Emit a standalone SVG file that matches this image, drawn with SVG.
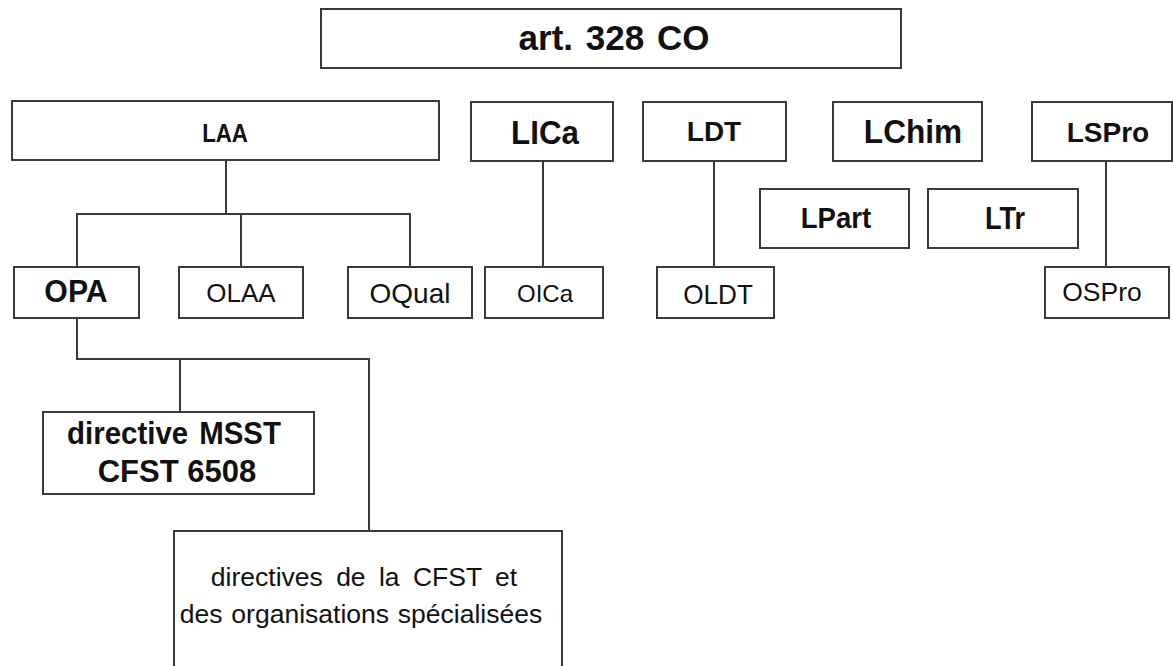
<svg xmlns="http://www.w3.org/2000/svg" width="1173" height="666" viewBox="0 0 1173 666">
<style>
.box{fill:#fff;stroke:#3a3a3a;stroke-width:2}
.ln{fill:none;stroke:#3a3a3a;stroke-width:2}
text{font-family:"Liberation Sans",Arial,sans-serif;fill:#111;text-anchor:middle}
.b{font-weight:bold}
</style>
<rect width="1173" height="666" fill="#fff"/>
<g id="connectors">
<path class="ln" d="M226 160V214M77 267V214H410V267M241 214V267"/>
<path class="ln" d="M543 161V267"/>
<path class="ln" d="M714 161V267"/>
<path class="ln" d="M1106 161V267"/>
<path class="ln" d="M77 318V359H369V531M180 359V412"/>
</g>
<g id="art328"><rect class="box" x="321" y="9" width="580" height="59"/><text class="b" x="614" y="50" font-size="35" word-spacing="3">art. 328 CO</text></g>
<g id="LAA"><rect class="box" x="12" y="101" width="427" height="59"/><text class="b" transform="translate(225 142) scale(0.84 1)" font-size="26.5">LAA</text></g>
<g id="LICa"><rect class="box" x="471" y="102" width="142" height="59"/><text class="b" transform="translate(545 144) scale(0.95 1)" font-size="33">LICa</text></g>
<g id="LDT"><rect class="box" x="643" y="102" width="143" height="59"/><text class="b" x="714" y="141" font-size="28">LDT</text></g>
<g id="LChim"><rect class="box" x="833" y="102" width="149" height="59"/><text class="b" transform="translate(913 143) scale(0.93 1)" font-size="34">LChim</text></g>
<g id="LSPro"><rect class="box" x="1032" y="102" width="140" height="59"/><text class="b" x="1108" y="142" font-size="28">LSPro</text></g>
<g id="LPart"><rect class="box" x="760" y="189" width="149" height="59"/><text class="b" transform="translate(836 228) scale(0.92 1)" font-size="30">LPart</text></g>
<g id="LTr"><rect class="box" x="928" y="189" width="150" height="59"/><text class="b" transform="translate(1005 229) scale(0.89 1)" font-size="30.5">LTr</text></g>
<g id="OPA"><rect class="box" x="14" y="267" width="125" height="51"/><text class="b" transform="translate(76 302) scale(0.96 1)" font-size="31.5">OPA</text></g>
<g id="OLAA"><rect class="box" x="179" y="267" width="124" height="51"/><text x="241" y="302" font-size="26">OLAA</text></g>
<g id="OQual"><rect class="box" x="348" y="267" width="124" height="51"/><text x="410" y="303" font-size="28">OQual</text></g>
<g id="OICa"><rect class="box" x="485" y="267" width="118" height="51"/><text x="545" y="302" font-size="24">OICa</text></g>
<g id="OLDT"><rect class="box" x="657" y="267" width="117" height="51"/><text transform="translate(718 304) scale(0.95 1)" font-size="27.5">OLDT</text></g>
<g id="OSPro"><rect class="box" x="1045" y="267" width="124" height="51"/><text x="1102" y="301" font-size="26.5">OSPro</text></g>
<g id="MSST"><rect class="box" x="43" y="412" width="271" height="82"/><text class="b" transform="translate(174 444) scale(0.95 1)" font-size="31" word-spacing="3">directive MSST</text><text class="b" x="177" y="482" font-size="31">CFST 6508</text></g>
<g id="CFST"><rect class="box" x="174" y="531" width="388" height="160"/><text x="364" y="586" font-size="26.5" word-spacing="6">directives de la CFST et</text><text x="361" y="623" font-size="26.5" word-spacing="1.5">des organisations spécialisées</text></g>
</svg>
